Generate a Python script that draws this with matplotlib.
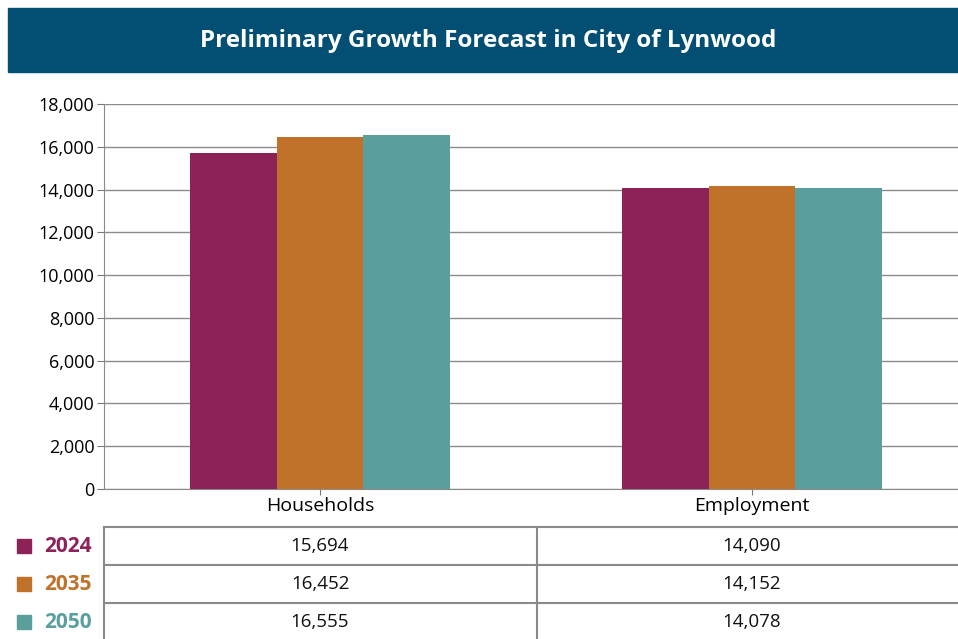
import numpy as np
import matplotlib.pyplot as plt
from matplotlib.patches import Rectangle
from matplotlib.lines import Line2D

# data
categories = ["Households", "Employment"]
years = ["2024", "2035", "2050"]
values = {
    "2024": [15694, 14090],
    "2035": [16452, 14152],
    "2050": [16555, 14078],
}
colors = {"2024": "#8c2258", "2035": "#c0712a", "2050": "#5a9f9d"}
yticks = [0, 2000, 4000, 6000, 8000, 10000, 12000, 14000, 16000, 18000]

plt.rcParams['font.family'] = ['Open Sans', 'DejaVu Sans']

W, H = 958, 639
fig = plt.figure(figsize=(W / 100, H / 100), dpi=100)

def fx(px):
    return px / W

def fy(py):
    return 1 - py / H

# title banner
fig.patches.append(Rectangle((fx(8), fy(72)), fx(950), 64 / H,
                             transform=fig.transFigure, color="#034f73", zorder=0))
fig.text(fx(488), fy(41), "Preliminary Growth Forecast in City of Lynwood",
         color="white", fontsize=17.5, fontweight="bold", ha="center", va="center")

# bar chart (right edge runs a bit past the figure, like the original)
ax = fig.add_axes([fx(104), fy(489), fx(968) - fx(104), fy(104) - fy(489)])
x = np.arange(len(categories))
bw = 0.2
for i, yr in enumerate(years):
    ax.bar(x + (i - 1) * bw, values[yr], width=bw, color=colors[yr], zorder=3)

ax.set_xlim(-0.5, len(categories) - 0.5)
ax.set_ylim(0, 18000)
ax.set_yticks(yticks)
ax.set_yticklabels([f"{v:,}" for v in yticks], fontsize=13)
ax.set_xticks(x)
ax.set_xticklabels(categories, fontsize=14)
ax.tick_params(axis="y", length=5, color="#777777", pad=2)
ax.tick_params(axis="x", length=4, color="#777777", pad=2)
ax.grid(axis="y", color="#8a8a8a", linewidth=1, zorder=0)
for s in ["top", "right"]:
    ax.spines[s].set_visible(False)
for s in ["left", "bottom"]:
    ax.spines[s].set_color("#8a8a8a")

# data table below
row_tops = [527, 565, 603]
line_c = "#8a8a8a"
for py in row_tops:
    fig.lines.append(Line2D([fx(104), fx(958)], [fy(py), fy(py)],
                            transform=fig.transFigure, color=line_c, lw=1.5))
for px in [104, 537]:
    fig.lines.append(Line2D([fx(px), fx(px)], [fy(527), fy(639)],
                            transform=fig.transFigure, color=line_c, lw=1.5))

col_centers = [320, 752]
for r, yr in enumerate(years):
    cy = row_tops[r] + 19
    fig.patches.append(Rectangle((fx(17), fy(cy + 7)), fx(14), 14 / H,
                                 transform=fig.transFigure, color=colors[yr]))
    fig.text(fx(44), fy(cy), yr, color=colors[yr], fontsize=15,
             fontweight="bold", ha="left", va="center")
    for c, cx in enumerate(col_centers):
        fig.text(fx(cx), fy(cy), f"{values[yr][c]:,}", fontsize=13.5,
                 ha="center", va="center", color="#111111")

fig.savefig("out.png", dpi=100)
